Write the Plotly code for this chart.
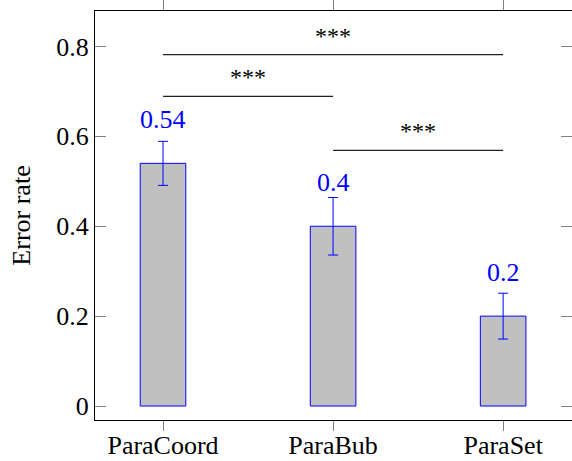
import plotly.graph_objects as go

categories = ["ParaCoord", "ParaBub", "ParaSet"]
error_rate = [0.54, 0.4, 0.2]
error_sd = [0.049, 0.064, 0.051]
value_labels = ["0.54", "0.4", "0.2"]
y_ticks = [0, 0.2, 0.4, 0.6, 0.8]
y_tick_labels = ["0", "0.2", "0.4", "0.6", "0.8"]
# significance brackets: (from category index, to category index, height, label)
sig_from = [0, 0, 1]
sig_to = [2, 1, 2]
sig_height = [0.782, 0.689, 0.569]
sig_label = ["***", "***", "***"]

xpos = list(range(len(categories)))
FONT = "Liberation Serif"

fig = go.Figure()
fig.add_trace(go.Bar(
    x=xpos, y=error_rate, width=0.268,
    marker=dict(color="#c0c0c0", line=dict(color="#0000ff", width=1)),
    error_y=dict(type="data", array=error_sd, color="#0000ff", thickness=1, width=5),
    showlegend=False, hoverinfo="skip",
))

annotations = []
for x, v, t in zip(xpos, error_rate, value_labels):
    annotations.append(dict(x=x, y=v, text=t, showarrow=False, yanchor="middle",
                            yshift=44, font=dict(family=FONT, size=26, color="#0000ff")))

shapes = []
for a, b, h, lab in zip(sig_from, sig_to, sig_height, sig_label):
    shapes.append(dict(type="line", xref="x", yref="y", x0=a, x1=b, y0=h, y1=h,
                       line=dict(color="#222222", width=1.2)))
    annotations.append(dict(x=(a + b) / 2, y=h, text=lab, showarrow=False, yanchor="middle",
                            yshift=19, font=dict(family=FONT, size=24, color="#000000")))

fig.update_layout(
    width=572, height=461,
    margin=dict(l=95, r=0, t=11, b=41),
    paper_bgcolor="white", plot_bgcolor="white",
    font=dict(family=FONT, size=26, color="#000000"),
    annotations=annotations, shapes=shapes,
    xaxis=dict(
        range=[-0.4, 2.405], tickmode="array", tickvals=xpos, ticktext=categories,
        ticks="outside", ticklen=10, tickcolor="#808080", tickwidth=1,
        showline=True, linecolor="#000000", linewidth=1, mirror="ticks",
        showgrid=False, zeroline=False, tickfont=dict(family=FONT, size=26),
        ticklabelstandoff=-8, automargin=False,
    ),
    yaxis=dict(
        range=[-0.0311, 0.879], tickmode="array", tickvals=y_ticks, ticktext=y_tick_labels,
        ticks="inside", ticklen=11, tickcolor="#808080", tickwidth=1,
        showline=True, linecolor="#000000", linewidth=1, mirror="ticks",
        showgrid=False, zeroline=False, tickfont=dict(family=FONT, size=26),
        title=dict(text="Error rate", font=dict(family=FONT, size=26), standoff=18),
        automargin=False,
    ),
)

fig.write_html("out.html")
